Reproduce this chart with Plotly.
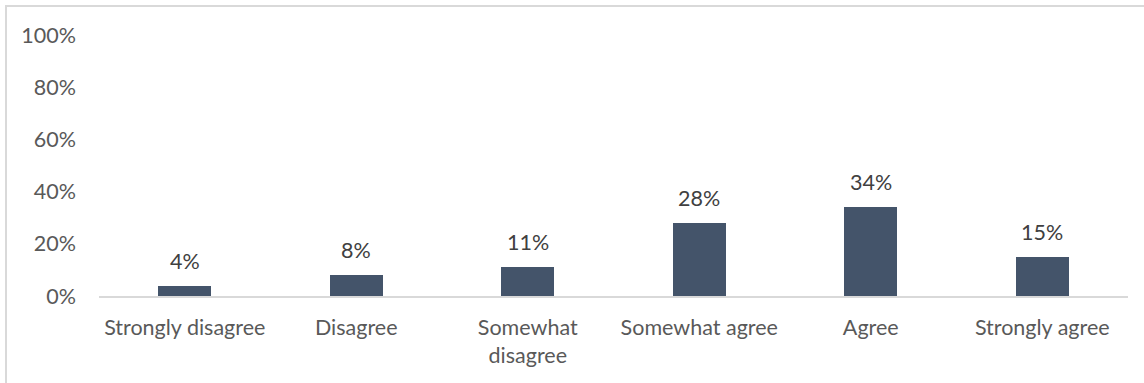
import plotly.graph_objects as go

categories = ["Strongly disagree", "Disagree", "Somewhat<br>disagree",
              "Somewhat agree", "Agree", "Strongly agree"]
values = [4, 8, 11, 28, 34, 15]
y_ticks = [0, 0.2, 0.4, 0.6, 0.8, 1.0]
y_tick_labels = ["0%", "20%", "40%", "60%", "80%", "100%"]

W, H = 1144, 383
ML, MR, MT, MB = 99, 16, 35, 87
PW, PH = W - ML - MR, H - MT - MB

FONT = "Lato, Carlito, Calibri, sans-serif"
FS = 21.5
TXT = "#595959"
BAR = "#44546A"

fig = go.Figure(go.Bar(
    x=list(range(len(categories))),
    y=[v / 100 for v in values],
    marker=dict(color=BAR, line=dict(width=0)),
    width=0.31,
    hoverinfo="skip",
))

# value labels above each bar
for i, v in enumerate(values):
    fig.add_annotation(x=i, y=v / 100, text=f"{v}%", showarrow=False,
                       yanchor="bottom", yshift=10,
                       font=dict(family=FONT, size=FS, color="#404040"))


def px_x(px):
    return (px - ML) / PW


def px_y(py):
    return (H - MB - py) / PH


# outer frame (left and top edges)
frame = dict(type="line", xref="paper", yref="paper",
             line=dict(color="#D9D9D9", width=2))
fig.add_shape(**frame, x0=px_x(6), x1=px_x(6), y0=px_y(5), y1=px_y(H + 5))
fig.add_shape(**frame, x0=px_x(5), x1=px_x(W + 5), y0=px_y(6), y1=px_y(6))

fig.update_layout(
    width=W, height=H,
    margin=dict(l=ML, r=MR, t=MT, b=MB),
    paper_bgcolor="white", plot_bgcolor="white",
    showlegend=False,
    bargap=0,
    font=dict(family=FONT, size=FS, color=TXT),
    xaxis=dict(
        tickmode="array", tickvals=list(range(len(categories))),
        ticktext=categories, range=[-0.5, len(categories) - 0.5],
        showgrid=False, zeroline=False, showline=True,
        linecolor="#D9D9D9", linewidth=1.5, ticks="",
        ticklabelstandoff=11,
        tickfont=dict(family=FONT, size=FS, color=TXT),
    ),
    yaxis=dict(
        tickmode="array", tickvals=y_ticks, ticktext=y_tick_labels,
        range=[0, 1.0], showgrid=False, zeroline=False, showline=False,
        ticks="", ticklabelstandoff=22,
        tickfont=dict(family=FONT, size=FS, color=TXT),
    ),
)

fig.write_html("out.html")
